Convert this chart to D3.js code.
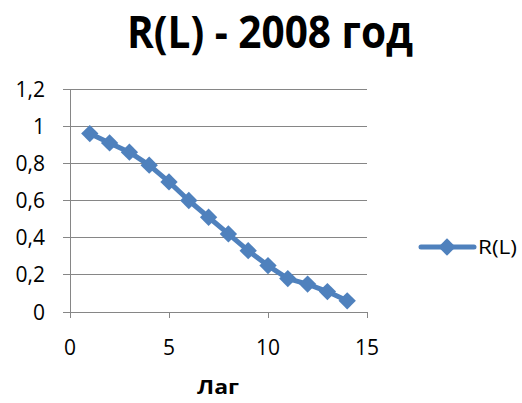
<!DOCTYPE html>
<html><head><meta charset="utf-8">
<script src="https://cdn.jsdelivr.net/npm/d3@7"></script>
<style>body{margin:0;background:#fff}svg{display:block}</style>
</head><body>
<script>
const lags = [1,2,3,4,5,6,7,8,9,10,11,12,13,14];
const rValues = [0.96,0.91,0.86,0.79,0.70,0.60,0.51,0.42,0.33,0.25,0.18,0.15,0.11,0.06];
const xTicks = [0,5,10,15];
const yTicks = [0,0.2,0.4,0.6,0.8,1,1.2];
const title = "R(L) - 2008 год";
const xTitle = "Лаг";
const seriesName = "R(L)";

const W=522,H=403;
const font = "'Open Sans', 'Liberation Sans', sans-serif";
const svg = d3.select("body").append("svg").attr("width",W).attr("height",H);
const x = d3.scaleLinear().domain([0,15]).range([70,367]);
const y = d3.scaleLinear().domain([0,1.2]).range([312,89]);
const color="#4F81BD", grid="#868686";
const fmt = d => d3.format("~g")(d).replace(".",",");

// gridlines
svg.append("g").selectAll("line").data(yTicks).join("line")
  .attr("x1",x(0)-7).attr("x2",x(15)).attr("y1",d=>y(d)).attr("y2",d=>y(d))
  .attr("stroke",grid).attr("stroke-width",1).attr("shape-rendering","crispEdges");
// y axis line
svg.append("line").attr("x1",x(0)).attr("x2",x(0)).attr("y1",y(1.2)).attr("y2",y(0))
  .attr("stroke",grid).attr("shape-rendering","crispEdges");
// x ticks
svg.append("g").selectAll("line").data(xTicks).join("line")
  .attr("x1",d=>x(d)).attr("x2",d=>x(d)).attr("y1",y(0)).attr("y2",y(0)+6)
  .attr("stroke",grid).attr("shape-rendering","crispEdges");
// y labels
svg.append("g").selectAll("text").data(yTicks).join("text")
  .attr("x",45).attr("y",d=>y(d)).attr("dy","0.36em").attr("text-anchor","end")
  .attr("font-family",font).attr("font-size",21).attr("fill","#000").text(fmt);
// x labels
svg.append("g").selectAll("text").data(xTicks).join("text")
  .attr("x",d=>x(d)).attr("y",355).attr("text-anchor","middle")
  .attr("font-family",font).attr("font-size",21).attr("fill","#000").text(d=>d);
// titles
svg.append("text").attr("x",270).attr("y",48).attr("text-anchor","middle")
  .attr("font-family",font).attr("font-weight","bold").attr("font-size",45)
  .attr("textLength",286).attr("lengthAdjust","spacingAndGlyphs").text(title);
svg.append("text").attr("x",218).attr("y",394).attr("text-anchor","middle")
  .attr("font-family",font).attr("font-weight","bold").attr("font-size",19)
  .attr("textLength",42).attr("lengthAdjust","spacingAndGlyphs").text(xTitle);

// series
const line = d3.line().x((d,i)=>x(lags[i])).y(d=>y(d));
svg.append("path").datum(rValues).attr("d",line).attr("fill","none")
  .attr("stroke",color).attr("stroke-width",5).attr("stroke-linejoin","round");
const marker = d3.symbol().type(d3.symbolSquare).size(150);
svg.append("g").selectAll("path").data(rValues).join("path")
  .attr("transform",(d,i)=>`translate(${x(lags[i])},${y(d)}) rotate(45)`)
  .attr("d",marker).attr("fill",color);

// legend
const ly=247;
svg.append("line").attr("x1",421).attr("x2",474).attr("y1",ly).attr("y2",ly)
  .attr("stroke",color).attr("stroke-width",5).attr("stroke-linecap","round");
svg.append("path").attr("transform",`translate(447,${ly}) rotate(45)`)
  .attr("d",marker).attr("fill",color);
svg.append("text").attr("x",478).attr("y",ly).attr("dy","0.36em")
  .attr("font-family",font).attr("font-size",20)
  .attr("textLength",39).attr("lengthAdjust","spacingAndGlyphs").text(seriesName);
</script>
</body></html>
